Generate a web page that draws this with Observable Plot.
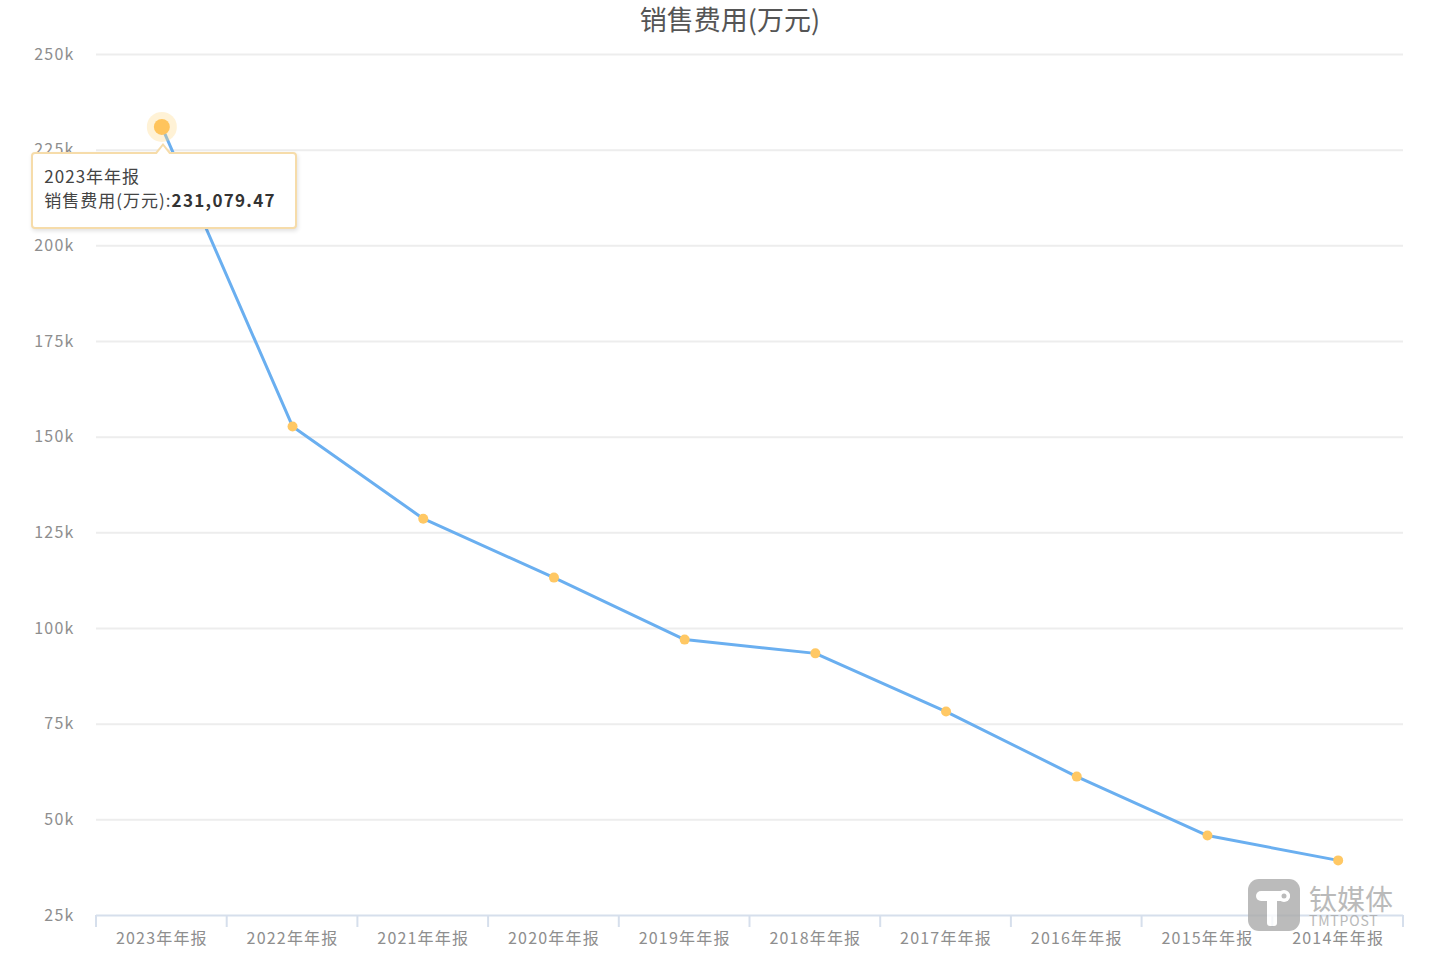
<!DOCTYPE html>
<html><head><meta charset="utf-8">
<script src="https://cdn.jsdelivr.net/npm/d3@7"></script>
<script src="https://cdn.jsdelivr.net/npm/@observablehq/plot@0.6"></script>
<style>
body{margin:0;background:#fff;font-family:"Noto Sans CJK SC","Noto Sans",sans-serif;}
#wrap{position:relative;width:1440px;height:959px;overflow:hidden;background:#fff;}
#title{height:40px;line-height:38px;text-align:center;font-size:27px;color:#555;padding-left:20px;box-sizing:border-box;}
#chart svg{display:block;}
#tip{position:absolute;background:#fff;border:2px solid #f6dcaa;border-radius:4px;box-shadow:1px 2px 4px rgba(0,0,0,0.12);padding:10px 11px;font-size:17px;line-height:24px;color:#444;white-space:nowrap;box-sizing:border-box;letter-spacing:1px;}
#tip:before{content:"";position:absolute;top:-11px;left:var(--ax);border-left:9px solid transparent;border-right:9px solid transparent;border-bottom:11px solid #f6dcaa;}
#tip:after{content:"";position:absolute;top:-8px;left:calc(var(--ax) + 2px);border-left:7px solid transparent;border-right:7px solid transparent;border-bottom:9px solid #fff;}
#tip b{font-weight:700;color:#333;letter-spacing:1.3px;}
#wm{position:absolute;left:1247px;top:878px;display:flex;align-items:center;opacity:0.8;}
#wm .txt{margin-left:8px;color:#a9a9a9;line-height:1;}
#wm .cn{font-size:28px;line-height:30px;}
#wm .en{font-size:14px;line-height:14px;letter-spacing:0.8px;}
</style></head><body>
<div id="wrap">
  <div id="title">销售费用(万元)</div>
  <div id="chart"></div>
  <div id="tip"></div>
  <div id="wm">
    <svg width="54" height="54" viewBox="0 0 54 54">
      <rect x="1" y="1" width="52" height="52" rx="11" fill="#ababab"/>
      <rect x="9" y="13" width="34" height="10" rx="5" fill="#fff"/>
      <circle cx="37" cy="18" r="6" fill="#fff"/>
      <circle cx="37" cy="18" r="2.5" fill="#ababab"/>
      <rect x="20" y="18" width="10" height="30" rx="3" fill="#fff"/>
    </svg>
    <div class="txt"><div class="cn">钛媒体</div><div class="en">TMTPOST</div></div>
  </div>
</div>
<script>
const categories = ["2023年年报","2022年年报","2021年年报","2020年年报","2019年年报","2018年年报","2017年年报","2016年年报","2015年年报","2014年年报"];
const values = [231079.47, 152800, 128700, 113300, 97100, 93500, 78300, 61300, 45900, 39400];
const yTicks = [25000, 50000, 75000, 100000, 125000, 150000, 175000, 200000, 225000, 250000];
const seriesName = "销售费用(万元)";
const highlightIndex = 0;

const data = categories.map((c, i) => ({year: c, value: values[i]}));
const TITLE_H = 40;

const plot = Plot.plot({
  width: 1440, height: 919,
  marginTop: 14, marginBottom: 44, marginLeft: 96, marginRight: 37,
  style: {fontFamily: '"Noto Sans CJK SC","Noto Sans",sans-serif', fontSize: "16px", color: "#8e8e8e", background: "transparent", letterSpacing: "1.2px"},
  x: {type: "band", domain: categories, padding: 0, round: false, tickSize: 0, tickPadding: 17, label: null},
  y: {domain: [yTicks[0], yTicks[yTicks.length - 1]], ticks: yTicks, tickFormat: d => d / 1000 + "k", tickSize: 0, tickPadding: 22, label: null},
  marks: [
    Plot.ruleY(yTicks.slice(1), {stroke: "#ededed", strokeWidth: 2}),
    Plot.ruleY([yTicks[0]], {stroke: "#d6dfec", strokeWidth: 2}),
    Plot.line(data, {x: "year", y: "value", stroke: "#6aaff0", strokeWidth: 3}),
    Plot.dot(data.filter((d, i) => i !== highlightIndex), {x: "year", y: "value", r: 5, fill: "#ffc864"}),
    Plot.dot([data[highlightIndex]], {x: "year", y: "value", r: 15, fill: "#ffd98a", fillOpacity: 0.35}),
    Plot.dot([data[highlightIndex]], {x: "year", y: "value", r: 8, fill: "#ffc45c"})
  ]
});
document.getElementById("chart").appendChild(plot);

const xs = plot.scale("x"), ys = plot.scale("y");
const svg = d3.select(plot.tagName.toLowerCase() === "svg" ? plot : plot.querySelector("svg"));
const bw = xs.bandwidth;
const bounds = categories.map(c => xs.apply(c)).concat([xs.apply(categories[categories.length - 1]) + bw]);
const y0 = ys.apply(yTicks[0]);
svg.append("g").selectAll("line").data(bounds).join("line")
  .attr("x1", d => d).attr("x2", d => d)
  .attr("y1", y0).attr("y2", y0 + 12)
  .attr("stroke", "#d6dfec").attr("stroke-width", 2);

// tooltip anchored to the highlighted point
const px = xs.apply(categories[highlightIndex]) + bw / 2;
const py = ys.apply(values[highlightIndex]) + TITLE_H;
const tip = document.getElementById("tip");
tip.innerHTML = `<div>${categories[highlightIndex]}</div><div>${seriesName}:<b>${d3.format(",.2f")(values[highlightIndex])}</b></div>`;
tip.style.left = (px - 130) + "px";
tip.style.top = (py + 26) + "px";
tip.style.width = "266px";
tip.style.height = "77px";
tip.style.setProperty("--ax", "121px");
</script>
</body></html>
